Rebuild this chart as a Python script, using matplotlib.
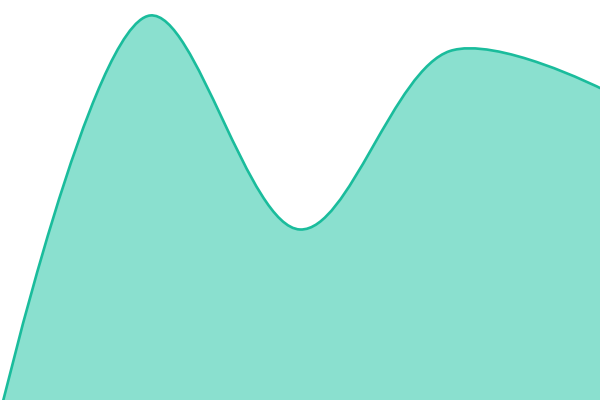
import matplotlib
matplotlib.use("Agg")
import numpy as np
import matplotlib.pyplot as plt
from matplotlib.path import Path
from matplotlib.patches import PathPatch

x_vals = [0, 150, 300, 450, 600]
y_vals = [-14, 384.5, 170.5, 349, 312]

LINE = "#1ABC9C"
FILL = "#8AE0CF"


def catmull_rom_path(xs, ys, alpha=0.5, closed_base=None):
    """Centripetal Catmull-Rom curve (as d3.curveCatmullRom) built as bezier path."""
    P = list(zip(map(float, xs), map(float, ys)))
    n = len(P)
    verts = [P[0]]
    codes = [Path.MOVETO]

    def dist(a, b):
        return np.hypot(a[0] - b[0], a[1] - b[1])

    for i in range(n - 1):
        p0 = P[i - 1] if i > 0 else P[i]
        p1, p2 = P[i], P[i + 1]
        p3 = P[i + 2] if i + 2 < n else P[i + 1]
        l01a = dist(p0, p1) ** alpha
        l12a = dist(p1, p2) ** alpha
        l23a = dist(p2, p3) ** alpha
        l01_2a, l12_2a, l23_2a = l01a ** 2, l12a ** 2, l23a ** 2
        x1, y1 = p1
        x2, y2 = p2
        if l01a > 1e-9:
            a = 2 * l01_2a + 3 * l01a * l12a + l12_2a
            m = 3 * l01a * (l01a + l12a)
            x1 = (p1[0] * a - p0[0] * l12_2a + p2[0] * l01_2a) / m
            y1 = (p1[1] * a - p0[1] * l12_2a + p2[1] * l01_2a) / m
        if l23a > 1e-9:
            b = 2 * l23_2a + 3 * l23a * l12a + l12_2a
            m = 3 * l23a * (l23a + l12a)
            x2 = (p2[0] * b + p1[0] * l23_2a - p3[0] * l12_2a) / m
            y2 = (p2[1] * b + p1[1] * l23_2a - p3[1] * l12_2a) / m
        verts += [(x1, y1), (x2, y2), p2]
        codes += [Path.CURVE4] * 3
    if closed_base is not None:
        verts += [(P[-1][0], closed_base), (P[0][0], closed_base), P[0]]
        codes += [Path.LINETO, Path.LINETO, Path.CLOSEPOLY]
    return Path(verts, codes)


fig = plt.figure(figsize=(6, 4), dpi=100)
ax = fig.add_axes([0, 0, 1, 1])
ax.set_xlim(0, 600)
ax.set_ylim(0, 400)
ax.axis("off")

ax.add_patch(PathPatch(catmull_rom_path(x_vals, y_vals, closed_base=-50),
                       facecolor=FILL, edgecolor="none"))
ax.add_patch(PathPatch(catmull_rom_path(x_vals, y_vals), facecolor="none",
                       edgecolor=LINE, lw=1.9, capstyle="round", joinstyle="round"))

fig.savefig("out.png", dpi=100)
